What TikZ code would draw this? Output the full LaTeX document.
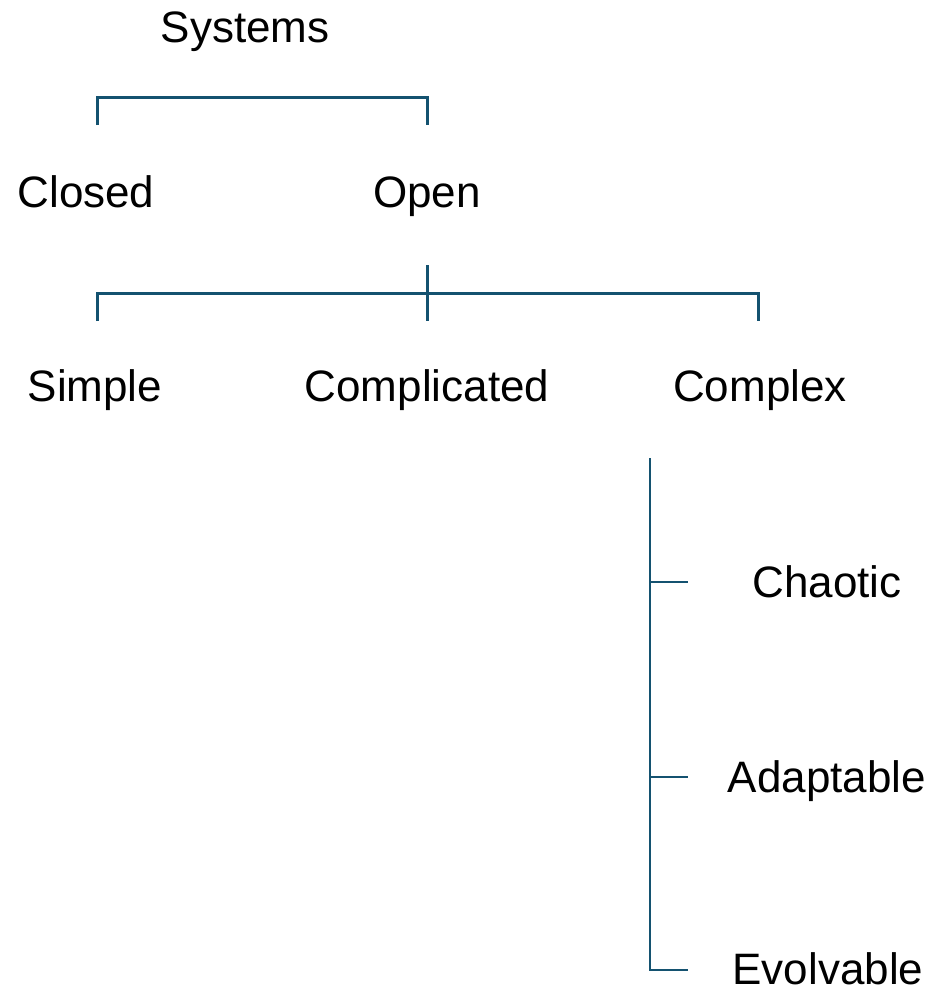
\documentclass[tikz,border=0pt]{standalone}
\usepackage{fontspec}
\setmainfont{Liberation Sans}
\definecolor{treeline}{RGB}{20,82,112}
\begin{document}
\begin{tikzpicture}[x=1pt,y=-1pt,
  label/.style={anchor=base, inner sep=0pt, font=\fontsize{44}{50}\selectfont},
  branch/.style={draw=treeline, line width=3pt},
  twig/.style={draw=treeline, line width=2.6pt}]
\useasboundingbox (0,0) rectangle (937,991);

% labels
\node[label] (systems) at (245,42) {Systems};
\node[label] (closed) at (86,207) {Closed};
\node[label] (open) at (427,207) {Open};
\node[label] (simple) at (95,401) {Simple};
\node[label] (complicated) at (427,401) {Complicated};
\node[label] (complex) at (760,401) {Complex};
\node[label] (chaotic) at (827,597) {Chaotic};
\node[label] (adaptable) at (827,792) {Adaptable};
\node[label] (evolvable) at (828,984) {Evolvable};

% top bracket: Systems -> Closed / Open
\coordinate (sysMid) at (245,97);
\coordinate (closedTop) at (97,125);
\coordinate (openTop) at (427,125);
\draw[branch] (closedTop) |- (sysMid) -| (openTop);

% second bracket: Open -> Simple / Complicated / Complex
\coordinate (openStub) at (427,265);
\coordinate (openMid) at (427,293);
\coordinate (simpleTop) at (97,321);
\coordinate (complicatedTop) at (427,321);
\coordinate (complexTop) at (758,321);
\draw[branch] (openStub) -- (complicatedTop);
\draw[branch] (simpleTop) |- (openMid) -| (complexTop);

% side tree: Complex -> Chaotic / Adaptable / Evolvable
\coordinate (spineTop) at (650,458);
\coordinate (spineBot) at (650,970);
\coordinate (chaoticTip) at (688,582);
\coordinate (adaptableTip) at (688,777);
\coordinate (evolvableTip) at (688,970);
\draw[twig] (spineTop) -- (spineBot) -- (evolvableTip);
\draw[twig] (650,582) -- (chaoticTip);
\draw[twig] (650,777) -- (adaptableTip);
\end{tikzpicture}
\end{document}
